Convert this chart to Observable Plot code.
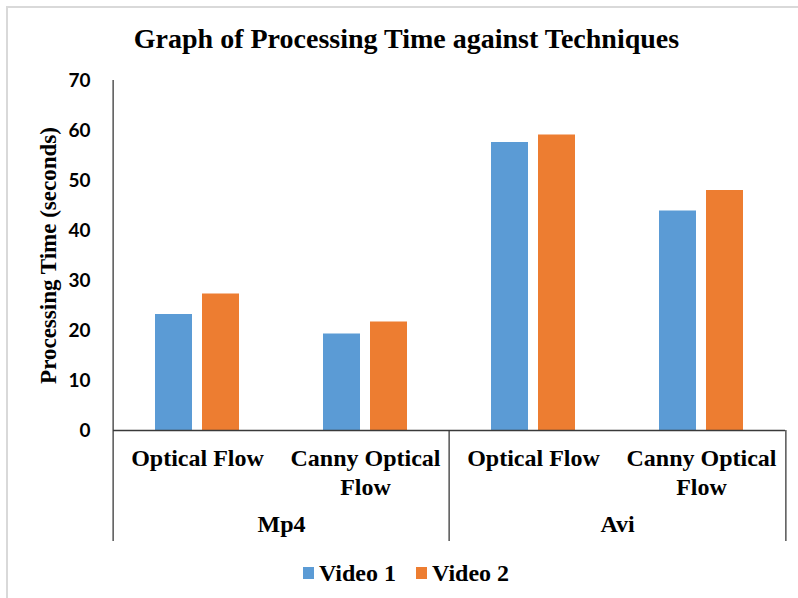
<!DOCTYPE html>
<html>
<head>
<meta charset="utf-8">
<script src="https://cdn.jsdelivr.net/npm/d3@7"></script>
<script src="https://cdn.jsdelivr.net/npm/@observablehq/plot@0.6"></script>
<style>
  html, body { margin: 0; padding: 0; background: #fff; }
  #wrap { position: relative; width: 798px; height: 598px; overflow: hidden; background: #fff; }
  #border { position: absolute; left: 6px; top: 6px; width: 900px; height: 700px; border: 2px solid #d9d9d9; box-sizing: border-box; pointer-events: none; }
  #title { position: relative; height: 60px; box-sizing: border-box; padding-top: 25px; padding-left: 15px; text-align: center;
           font-family: "Liberation Serif", "Times New Roman", serif; font-weight: bold; font-size: 28px; line-height: 28px; color: #000; }
  #chart { position: relative; height: 500px; }
  #chart svg { display: block; }
  #legend { position: relative; height: 26px; display: flex; justify-content: center; align-items: center; padding-left: 14px;
            font-family: "Liberation Serif", "Times New Roman", serif; font-weight: bold; font-size: 24px; line-height: 24px; color: #000; }
  .item { display: flex; align-items: center; margin: 0 10px; }
  .sw { width: 11px; height: 12px; margin-right: 5px; }
</style>
</head>
<body>
<div id="wrap">
  <div id="border"></div>
  <div id="title"></div>
  <div id="chart"></div>
  <div id="legend"></div>
</div>
<script>
// ---- data ----
const title = "Graph of Processing Time against Techniques";
const yLabel = "Processing Time (seconds)";
const formats = ["Mp4", "Mp4", "Avi", "Avi"];
const techniques = ["Optical Flow", "Canny Optical Flow", "Optical Flow", "Canny Optical Flow"];
const seriesNames = ["Video 1", "Video 2"];
const video1 = [23.2, 19.3, 57.6, 43.9];
const video2 = [27.3, 21.7, 59.1, 48.0];
const yTicks = [0, 10, 20, 30, 40, 50, 60, 70];
const colors = ["#5B9BD5", "#ED7D31"];

// ---- build table ----
const keys = formats.map((f, i) => `${f} | ${techniques[i]}`);
const rows = [];
keys.forEach((k, i) => {
  rows.push({key: k, series: seriesNames[0], value: video1[i]});
  rows.push({key: k, series: seriesNames[1], value: video2[i]});
});
const catLabels = keys.map((k, i) => ({key: k, label: techniques[i]}));
const groupNames = Array.from(new Set(formats));
// group label sits at the left edge of the second facet of each group
const groupLabels = groupNames.map(g => ({key: keys[formats.lastIndexOf(g)], label: g}));

const W = 798, H = 500, ML = 111, MR = 12, MT = 20, MB = 130;
const facetW = (W - ML - MR) / keys.length;
const belowAxis = -22.2; // extent of category separators below zero (in y units)

const serif = "Liberation Serif, Times New Roman, serif";
const axisColor = "#3a3a3a";

document.getElementById("title").textContent = title;

const chart = Plot.plot({
  width: W, height: H,
  marginLeft: ML, marginRight: MR, marginTop: MT, marginBottom: MB,
  style: {fontFamily: "Lato, sans-serif", fontSize: "19px", fontWeight: "bold", color: "#000", background: "transparent", overflow: "visible"},
  fx: {domain: keys, padding: 0, axis: null},
  x: {domain: seriesNames, paddingInner: 0.21, paddingOuter: 0.874, axis: null},
  y: {domain: [0, 70], ticks: yTicks, tickSize: 0, tickPadding: 23, label: null, line: false},
  color: {domain: seriesNames, range: colors},
  marks: [
    Plot.barY(rows, {fx: "key", x: "series", y: "value", fill: "series"}),
    Plot.ruleY([0], {stroke: axisColor, strokeWidth: 1.3}),
    // y axis line + left separator
    Plot.ruleX([{key: keys[0]}], {fx: "key", x: null, y1: 70, y2: belowAxis, dx: -facetW / 2, stroke: axisColor, strokeWidth: 1.3}),
    // group separator(s) at the left of each group's first facet (except the first)
    Plot.ruleX(groupNames.slice(1).map(g => ({key: keys[formats.indexOf(g)]})), {fx: "key", x: null, y1: 0, y2: belowAxis, dx: -facetW / 2, stroke: axisColor, strokeWidth: 1.3}),
    // right separator
    Plot.ruleX([{key: keys[keys.length - 1]}], {fx: "key", x: null, y1: 0, y2: belowAxis, dx: facetW / 2, stroke: axisColor, strokeWidth: 1.3}),
    // category labels
    Plot.text(catLabels, {fx: "key", text: "label", frameAnchor: "bottom", lineAnchor: "top", dy: 15, lineWidth: 7, lineHeight: 1.2,
      fontFamily: serif, fontSize: 24, fontWeight: "bold", fill: "#000"}),
    // group labels
    Plot.text(groupLabels, {fx: "key", text: "label", frameAnchor: "bottom-left", textAnchor: "middle", lineAnchor: "top", dy: 84,
      fontFamily: serif, fontSize: 24, fontWeight: "bold", fill: "#000"}),
    // y label
    Plot.text([{key: keys[0], label: yLabel}], {fx: "key", text: "label", frameAnchor: "left", textAnchor: "middle", rotate: -90, dx: -65,
      fontFamily: serif, fontSize: 23, fontWeight: "bold", fill: "#000"})
  ]
});
document.getElementById("chart").appendChild(chart);

// legend
const legend = document.getElementById("legend");
seriesNames.forEach((s, i) => {
  const it = document.createElement("div");
  it.className = "item";
  const sw = document.createElement("div");
  sw.className = "sw";
  sw.style.background = colors[i];
  const t = document.createElement("span");
  t.textContent = s;
  it.appendChild(sw); it.appendChild(t);
  legend.appendChild(it);
});
</script>
</body>
</html>
